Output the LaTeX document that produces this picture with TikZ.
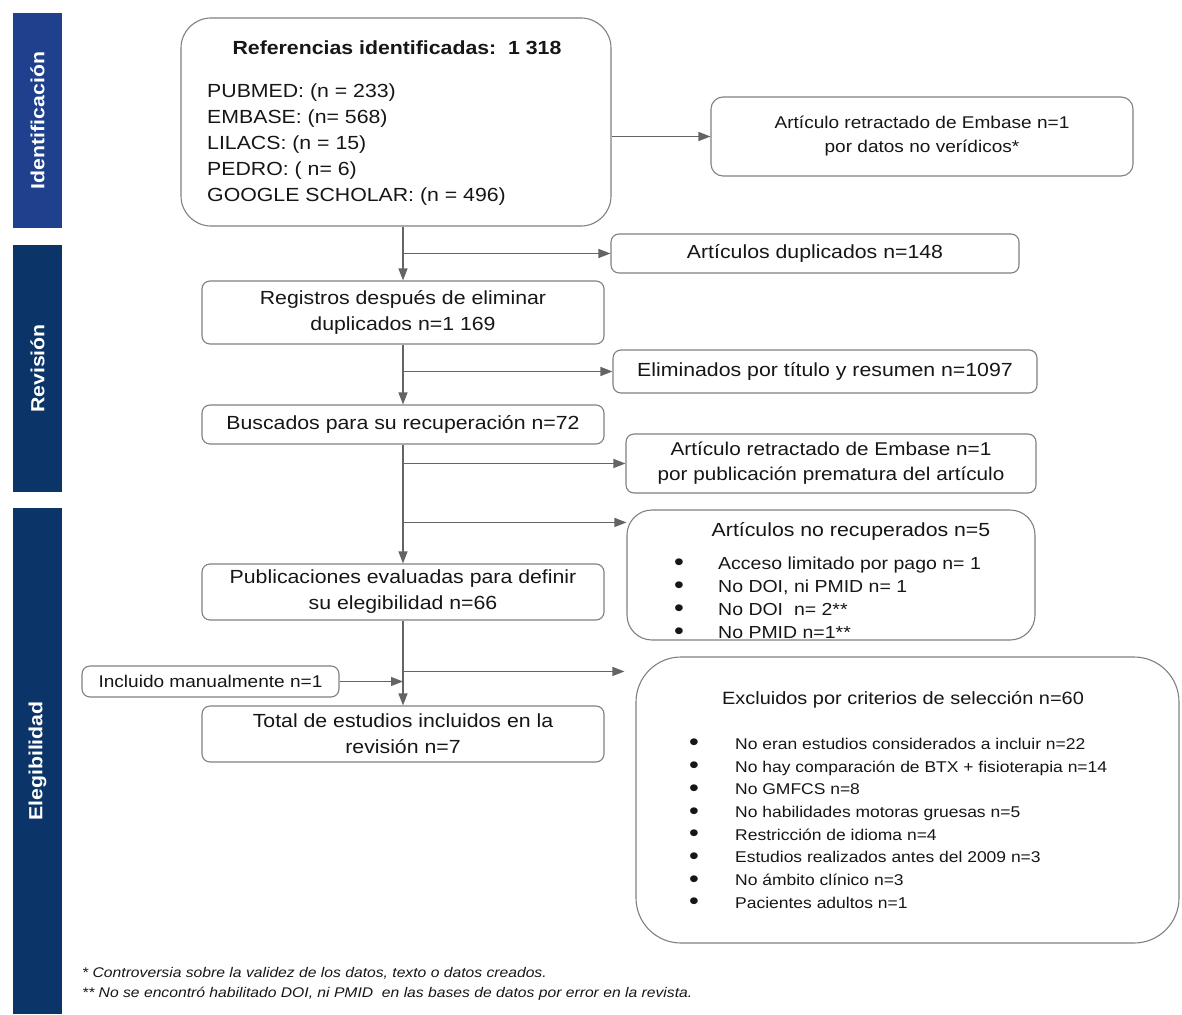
\documentclass[tikz,border=0pt]{standalone}
\usepackage{fontspec}
\setmainfont{Liberation Sans}[FakeStretch=1.12]
\definecolor{IdBlue}{RGB}{31,64,140}
\definecolor{BarNavy}{RGB}{11,52,104}
\definecolor{BoxGray}{RGB}{128,128,128}
\definecolor{LineGray}{RGB}{100,100,100}
\definecolor{TextGray}{RGB}{22,22,22}
\usetikzlibrary{arrows.meta, positioning}
\newcommand{\bigdot}{\raisebox{-1.5pt}{\fontsize{25}{0}\selectfont\textbullet}}

\begin{document}
\begin{tikzpicture}[x=1pt, y=-1pt, text=TextGray, font=\fontsize{19}{26}\selectfont,
	box/.style={draw=BoxGray, line width=1.1pt, rounded corners=8pt, align=center, inner sep=0pt},
	flow/.style={draw=LineGray, line width=1.2pt, -{Triangle[length=12pt, width=9pt]}},
	phase/.style={fill=#1, rotate=90, inner sep=0pt, minimum height=49pt, text=white,
		font=\fontsize{19}{22}\selectfont\bfseries},
	plain/.style={inner sep=0pt, align=left}]
	\useasboundingbox (0,0) rectangle (1182,1014);
	% fases
	\node[phase=IdBlue, minimum width=215pt] (fid) at (37.5,120.5) {Identificación};
	\node[phase=BarNavy, minimum width=247pt] (frev) at (37.5,368.5) {Revisión};
	\node[phase=BarNavy, minimum width=506pt] (feleg) at (37.5,761) {Elegibilidad};
	% columna principal
	\node[box, rounded corners=30pt, minimum width=430pt, minimum height=208pt] (refs) at (396,122) {};
	\node[plain, font=\fontsize{19}{26}\selectfont\bfseries] (refstitle) at (397,48) {Referencias identificadas:~~1 318};
	\node[plain, anchor=west] (refslist) at (207,145) {PUBMED: (n = 233)\\EMBASE: (n= 568)\\LILACS: (n = 15)\\PEDRO: ( n= 6)\\GOOGLE SCHOLAR: (n = 496)};
	\node[box, minimum width=402pt, minimum height=63pt] (reg) at (403,312.5) {Registros después de eliminar\\duplicados n=1 169};
	\node[box, minimum width=402pt, minimum height=39pt] (busc) at (403,424.5) {Buscados para su recuperación n=72};
	\node[box, minimum width=402pt, minimum height=56pt] (pub) at (403,592) {Publicaciones evaluadas para definir\\su elegibilidad n=66};
	\node[box, minimum width=402pt, minimum height=56pt] (tot) at (403,734) {Total de estudios incluidos en la\\revisión n=7};
	\node[box, minimum width=257pt, minimum height=31pt, font=\fontsize{17}{22}\selectfont] (incl) at (210.5,681.5) {Incluido manualmente n=1};
	% columna de exclusiones
	\node[box, rounded corners=12pt, minimum width=422pt, minimum height=79pt, font=\fontsize{17}{24}\selectfont] (ret1) at (922,136.5) {Artículo retractado de Embase n=1\\por datos no verídicos*};
	\node[box, minimum width=408pt, minimum height=39pt] (dup) at (815,253.5) {Artículos duplicados n=148};
	\node[box, minimum width=424pt, minimum height=43pt] (elim) at (825,371.5) {Eliminados por título y resumen n=1097};
	\node[box, minimum width=410pt, minimum height=59pt, font=\fontsize{18.5}{25}\selectfont] (ret2) at (831,463.5) {Artículo retractado de Embase n=1\\por publicación prematura del artículo};
	\node[box, rounded corners=25pt, minimum width=408pt, minimum height=130pt] (norec) at (831,575) {};
	\node[plain] (norectitle) at (851,531) {Artículos no recuperados n=5};
	\node[plain, anchor=west, font=\fontsize{17.4}{23}\selectfont] (noreclist) at (674,598) {%
		\makebox[44pt][l]{\bigdot}Acceso limitado por pago n= 1\\
		\makebox[44pt][l]{\bigdot}No DOI, ni PMID n= 1\\
		\makebox[44pt][l]{\bigdot}No DOI~~n= 2**\\
		\makebox[44pt][l]{\bigdot}No PMID n=1**};
	\node[box, rounded corners=45pt, minimum width=543pt, minimum height=286pt] (excl) at (907.5,800) {};
	\node[plain, font=\fontsize{17.8}{24}\selectfont] (excltitle) at (903,700) {Excluidos por criterios de selección n=60};
	\node[plain, anchor=west, font=\fontsize{15.6}{22.7}\selectfont] (excllist) at (689,824) {%
		\makebox[46pt][l]{\bigdot}No eran estudios considerados a incluir n=22\\
		\makebox[46pt][l]{\bigdot}No hay comparación de BTX + fisioterapia n=14\\
		\makebox[46pt][l]{\bigdot}No GMFCS n=8\\
		\makebox[46pt][l]{\bigdot}No habilidades motoras gruesas n=5\\
		\makebox[46pt][l]{\bigdot}Restricción de idioma n=4\\
		\makebox[46pt][l]{\bigdot}Estudios realizados antes del 2009 n=3\\
		\makebox[46pt][l]{\bigdot}No ámbito clínico n=3\\
		\makebox[46pt][l]{\bigdot}Pacientes adultos n=1};
	% notas
	\node[plain, anchor=west, font=\fontsize{14}{20}\selectfont\itshape] (notes) at (82,984) {%
		* Controversia sobre la validez de los datos, texto o datos creados.\\
		** No se encontró habilitado DOI, ni PMID~~en las bases de datos por error en la revista.};
	% flechas
	\coordinate (norecin) at ([yshift=-13pt]norec.north west);
	\coordinate (exclin) at ([xshift=-11pt, yshift=-15pt]excl.north west);
	\draw[flow] (refs.east |- ret1.west) -- (ret1.west);
	\draw[flow] (reg.north |- refs.south) -- (reg.north);
	\draw[flow] (reg.north |- dup.west) -- (dup.west);
	\draw[flow] (reg.south) -- (busc.north);
	\draw[flow] (reg.south |- elim.west) -- (elim.west);
	\draw[flow] (busc.south) -- (pub.north);
	\draw[flow] (busc.south |- ret2.west) -- (ret2.west);
	\draw[flow] (busc.south |- norecin) -- (norecin);
	\draw[flow] (pub.south) -- (tot.north);
	\draw[flow] (pub.south |- exclin) -- (exclin);
	\draw[flow] (incl.east) -- (incl.east -| pub.south);
\end{tikzpicture}
\end{document}
